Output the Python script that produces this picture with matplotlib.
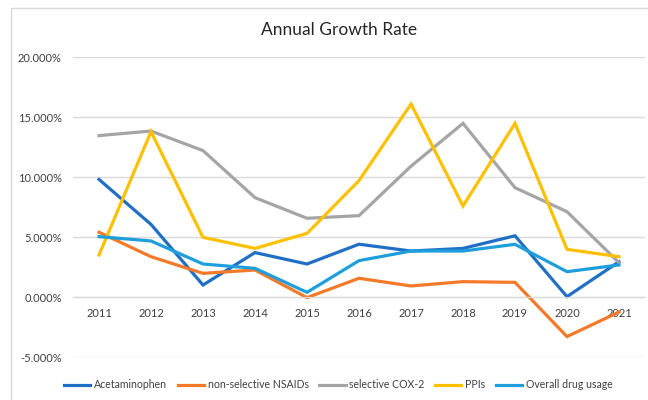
import matplotlib.pyplot as plt
from matplotlib.patches import Rectangle
from matplotlib.ticker import FuncFormatter

years = ['2011', '2012', '2013', '2014', '2015', '2016', '2017', '2018', '2019', '2020', '2021']

# growth rates in %
acetaminophen = [9.8, 6.05, 1.0, 3.7, 2.75, 4.4, 3.83, 4.05, 5.1, 0.03, 2.94]
nsaids = [5.4, 3.36, 1.97, 2.25, -0.05, 1.56, 0.92, 1.28, 1.22, -3.3, -1.25]
cox2 = [13.45, 13.83, 12.2, 8.28, 6.56, 6.78, 10.9, 14.47, 9.11, 7.11, 2.86]
ppis = [3.5, 13.78, 4.97, 4.05, 5.3, 9.7, 16.08, 7.58, 14.47, 3.97, 3.36]
overall = [5.03, 4.67, 2.75, 2.39, 0.39, 3.03, 3.83, 3.83, 4.39, 2.11, 2.67]

series = [
    ('Acetaminophen', acetaminophen, '#1F6FC5'),
    ('non-selective NSAIDs', nsaids, '#F47A2A'),
    ('selective COX-2', cox2, '#A5A5A5'),
    ('PPIs', ppis, '#FFC000'),
    ('Overall drug usage', overall, '#1E9FDB'),
]

plt.rcParams['font.family'] = ['Lato', 'DejaVu Sans']

fig = plt.figure(figsize=(6.48, 4.0), dpi=100)
# chart frame
fig.patches.append(Rectangle((11 / 648, -0.1), 1.2, 1 - 8 / 400 + 0.1,
                             transform=fig.transFigure, fill=False,
                             edgecolor='#D9D9D9', linewidth=1))

ax = fig.add_axes([73 / 648, 1 - 357 / 400, 572 / 648, 300 / 400])
x = list(range(len(years)))
for name, vals, col in series:
    ax.plot(x, vals, color=col, linewidth=2.3, label=name, solid_joinstyle='miter')

ax.set_xlim(-0.5, len(years) - 0.5)
ax.set_ylim(-5, 20)
ax.set_yticks([-5, 0, 5, 10, 15, 20])
ax.yaxis.set_major_formatter(FuncFormatter(lambda v, p: f'{v:.3f}%'))
ax.set_xticks(x)
ax.set_xticklabels(years)
ax.grid(axis='y', color='#D9D9D9', linewidth=1)
ax.set_axisbelow(True)
for s in ['top', 'right', 'left']:
    ax.spines[s].set_visible(False)
ax.spines['bottom'].set_position(('data', 0))
ax.spines['bottom'].set_color('#D9D9D9')
ax.tick_params(axis='both', length=0, labelsize=8, colors='#404040')
ax.tick_params(axis='y', pad=8)
ax.tick_params(axis='x', pad=8)

fig.text(0.523, 1 - 30 / 400, 'Annual Growth Rate', ha='center', va='center',
         fontsize=12.5, color='#262626')

fig.legend(loc='center', bbox_to_anchor=(0.522, 1 - 385 / 400), ncol=5,
           frameon=False, fontsize=7.6, handlelength=2.5, handletextpad=0.35,
           columnspacing=1.0, labelcolor='#404040')

fig.savefig('out.png', dpi=100)
